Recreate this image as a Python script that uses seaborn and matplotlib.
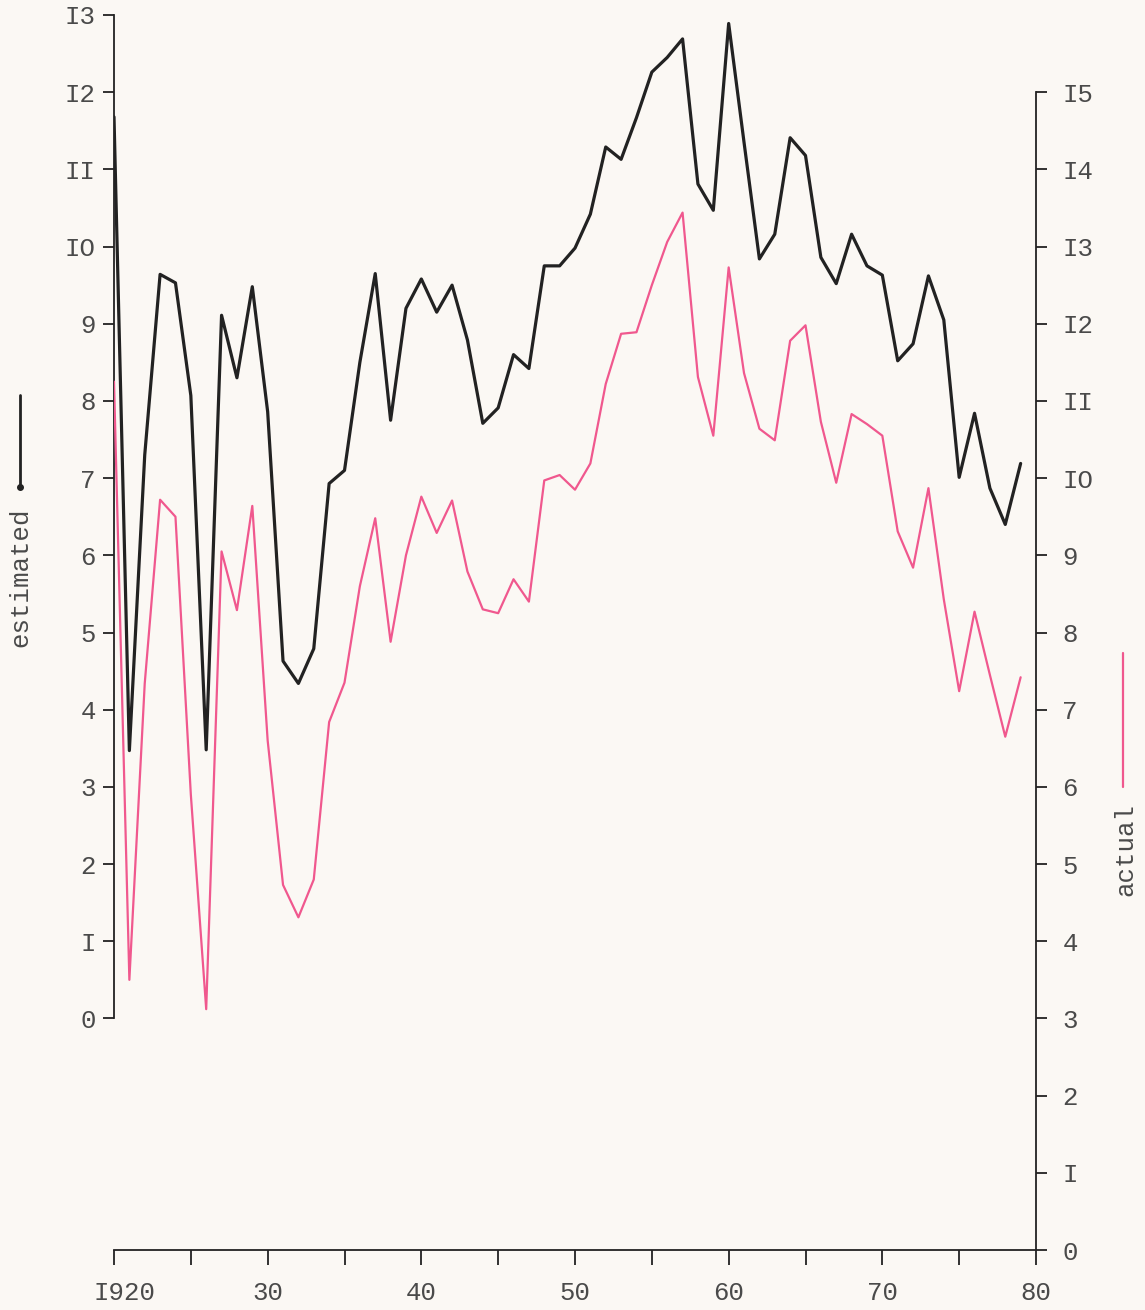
import numpy as np
import pandas as pd
import matplotlib
matplotlib.use("Agg")
import matplotlib.pyplot as plt
import matplotlib.transforms as mtransforms
from matplotlib.lines import Line2D
import seaborn as sns

# Annual series, 1920-1979
years = list(range(1920, 1980))

estimated = [
    11.68, 3.47, 7.30, 9.64, 9.53, 8.07, 3.48, 9.11, 8.30, 9.48,
    7.86, 4.63, 4.34, 4.79, 6.93, 7.10, 8.50, 9.65, 7.75, 9.20,
    9.58, 9.15, 9.50, 8.79, 7.71, 7.91, 8.60, 8.42, 9.75, 9.75,
    9.98, 10.42, 11.29, 11.13, 11.67, 12.26, 12.45, 12.69, 10.81, 10.47,
    12.89, 11.35, 9.84, 10.16, 11.41, 11.18, 9.86, 9.52, 10.16, 9.75,
    9.63, 8.52, 8.74, 9.62, 9.05, 7.01, 7.84, 6.87, 6.40, 7.19,
]

actual = [
    11.25, 3.50, 7.34, 9.72, 9.50, 5.90, 3.12, 9.05, 8.29, 9.64,
    6.60, 4.73, 4.31, 4.80, 6.84, 7.35, 8.60, 9.48, 7.88, 9.00,
    9.76, 9.29, 9.71, 8.79, 8.30, 8.25, 8.69, 8.40, 9.97, 10.04,
    9.85, 10.19, 11.22, 11.87, 11.89, 12.50, 13.06, 13.44, 11.31, 10.55,
    12.73, 11.36, 10.64, 10.49, 11.78, 11.98, 10.73, 9.94, 10.83, 10.70,
    10.55, 9.31, 8.84, 9.87, 8.43, 7.24, 8.27, 7.45, 6.65, 7.42,
]

x_ticks = list(range(1920, 1981, 5))
x_labels = ["I920", "", "30", "", "40", "", "50", "", "60", "", "70", "", "80"]
left_ticks = list(range(0, 14))
left_labels = ["0", "I", "2", "3", "4", "5", "6", "7", "8", "9", "IO", "II", "I2", "I3"]
right_ticks = list(range(0, 16))
right_labels = ["0", "I", "2", "3", "4", "5", "6", "7", "8", "9",
                "IO", "II", "I2", "I3", "I4", "I5"]

df = pd.DataFrame({"year": years, "estimated": estimated, "actual": actual})

sns.set_style("ticks")
plt.rcParams["font.family"] = ["Liberation Mono", "DejaVu Sans Mono"]

paper = "#fbf8f4"
ink = "#222222"
label_ink = "#4a4a4a"
pink = "#f0588e"
fs = 18.5

fig = plt.figure(figsize=(11.45, 13.10), dpi=100, facecolor=paper)
ax = fig.add_axes([114 / 1145, 60 / 1310, 922 / 1145, 1235 / 1310])
ax.set_facecolor(paper)
ax2 = ax.twinx()
ax2.set_facecolor("none")

sns.lineplot(data=df, x="year", y="estimated", ax=ax, color=ink, lw=2.3)
sns.lineplot(data=df, x="year", y="actual", ax=ax2, color=pink, lw=1.6)

ax.set_xlim(1920, 1980)
ax.set_ylim(-3, 13)
ax2.set_ylim(0, 16)

ax.set_xticks(x_ticks)
ax.set_xticklabels(x_labels)
ax.set_yticks(left_ticks)
ax.set_yticklabels(left_labels)
ax2.set_yticks(right_ticks)
ax2.set_yticklabels(right_labels)

for a in (ax, ax2):
    a.set_xlabel("")
    a.set_ylabel("")
    a.spines["top"].set_visible(False)

ax.spines["right"].set_visible(False)
ax.spines["left"].set_bounds(0, 13)
ax.spines["left"].set_color(ink)
ax.spines["bottom"].set_color(ink)
ax.spines["left"].set_linewidth(1.3)
ax.spines["bottom"].set_linewidth(1.3)

ax2.spines["left"].set_visible(False)
ax2.spines["bottom"].set_visible(False)
ax2.spines["right"].set_bounds(0, 15)
ax2.spines["right"].set_color(ink)
ax2.spines["right"].set_linewidth(1.3)

ax.tick_params(axis="x", direction="out", length=11, width=1.3, color=ink,
               labelsize=fs, labelcolor=label_ink, pad=11)
ax.tick_params(axis="y", direction="out", length=8, width=1.3, color=ink,
               labelsize=fs, labelcolor=label_ink, pad=5)
ax2.tick_params(axis="y", direction="out", length=8, width=1.3, color=ink,
                labelsize=fs, labelcolor=label_ink, pad=11)

# The year label of the first tick sits a little right of its tick
first = ax.get_xticklabels()[0]
first.set_transform(first.get_transform() +
                    mtransforms.ScaledTranslation(0.11, 0, fig.dpi_scale_trans))

# Axis titles with their line keys
fig.text(20 / 1145, 1 - 577 / 1310, "estimated", rotation=90, ha="center", va="center",
         fontsize=fs, color=label_ink)
fig.add_artist(Line2D([20 / 1145, 20 / 1145], [1 - 395 / 1310, 1 - 487 / 1310],
                      transform=fig.transFigure, color=ink, lw=2.0))
fig.add_artist(Line2D([20 / 1145], [1 - 487 / 1310], transform=fig.transFigure,
                      color=ink, marker="o", markersize=4, lw=0))

fig.text(1125 / 1145, 1 - 849 / 1310, "actual", rotation=90, ha="center", va="center",
         fontsize=fs, color=label_ink)
fig.add_artist(Line2D([1123 / 1145, 1123 / 1145], [1 - 653 / 1310, 1 - 787 / 1310],
                      transform=fig.transFigure, color=pink, lw=1.6))

fig.savefig("out.png", dpi=100, facecolor=paper)
